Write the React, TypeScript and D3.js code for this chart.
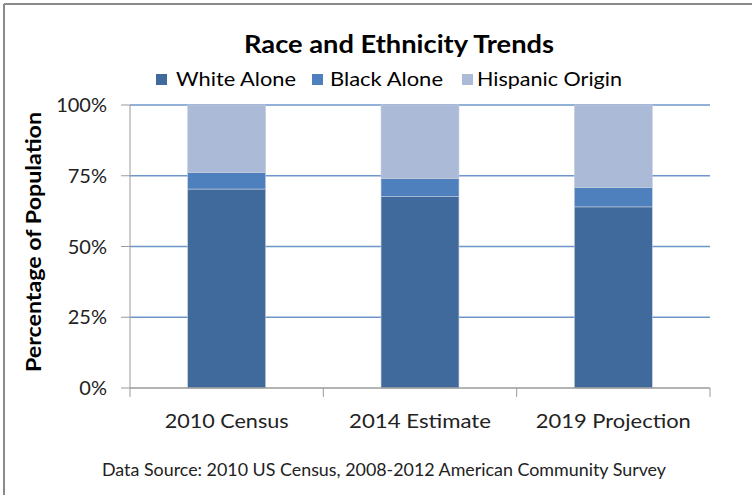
import React from "react";
import * as d3 from "d3";

const categories = ["2010 Census", "2014 Estimate", "2019 Projection"];
const whiteAlone = [70.3, 67.6, 64.0];
const blackAlone = [5.8, 6.4, 6.8];
const hispanicOrigin = [23.9, 26.0, 29.2];
const seriesNames = ["White Alone", "Black Alone", "Hispanic Origin"];
const yTicks = [0, 25, 50, 75, 100];
const yTickLabels = ["0%", "25%", "50%", "75%", "100%"];

const colors = ["#3F6A9B", "#4D80BD", "#AABAD7"];
const FONT = "Lato, 'Open Sans', sans-serif";

export default function App() {
  const W = 752, H = 495;
  const x = d3.scaleBand<string>().domain(categories).range([130, 710]).paddingInner(0.597).paddingOuter(0.2985);
  const y = d3.scaleLinear().domain([0, 100]).range([388, 105]);

  const rows = categories.map((c, i) => ({
    cat: c,
    "White Alone": whiteAlone[i],
    "Black Alone": blackAlone[i],
    "Hispanic Origin": hispanicOrigin[i],
  }));
  const stacked = d3.stack<any>().keys(seriesNames)(rows);
  const step = x.step();
  const catTicks = [130, ...categories.map((c) => (x(c) as number) + x.bandwidth() / 2 + step / 2)];

  const legendItems = [
    { sq: 156, tx: 176, w: 120 },
    { sq: 312, tx: 330, w: 113 },
    { sq: 462, tx: 477, w: 145 },
  ];
  const catWidths = [124, 142, 155];

  return (
    <svg width={W} height={H} style={{ position: "absolute", left: 0, top: 0, background: "#fff" }}>
      <rect x={0} y={0} width={W} height={H} fill="#fff" />
      {/* chart border (left and top visible) */}
      <line x1={4} y1={4} x2={W} y2={4} stroke="#8A8A8A" strokeWidth={2} />
      <line x1={4} y1={4} x2={4} y2={H} stroke="#8A8A8A" strokeWidth={2} />

      <text x={399} y={53} textAnchor="middle" fontFamily={FONT} fontWeight="bold" fontSize={25} fill="#000"
        textLength={310} lengthAdjust="spacingAndGlyphs">Race and Ethnicity Trends</text>

      {seriesNames.map((s, i) => (
        <g key={s}>
          <rect x={legendItems[i].sq} y={74} width={11} height={11} fill={colors[i]} />
          <text x={legendItems[i].tx} y={86} fontFamily={FONT} fontSize={20} fill="#000"
            textLength={legendItems[i].w} lengthAdjust="spacingAndGlyphs">{s}</text>
        </g>
      ))}

      {/* gridlines */}
      {yTicks.filter((t) => t > 0).map((t) => (
        <line key={t} x1={130} x2={710} y1={y(t)} y2={y(t)} stroke="#6E96CB" strokeWidth={1.5} />
      ))}

      {/* bars */}
      {stacked.map((layer, si) => (
        <g key={layer.key}>
          {layer.map((d, i) => (
            <rect key={i} x={x(categories[i])} y={y(d[1])} width={x.bandwidth()} height={y(d[0]) - y(d[1])}
              fill={colors[si]} stroke="#C5CDDA" strokeWidth={0.6} />
          ))}
        </g>
      ))}

      {/* y axis */}
      <line x1={130} x2={130} y1={105} y2={388} stroke="#9A9A9A" strokeWidth={1} />
      {yTicks.map((t, i) => (
        <g key={t}>
          <line x1={121} x2={130} y1={y(t)} y2={y(t)} stroke="#9A9A9A" strokeWidth={1} />
          <text x={107} y={y(t) + 7} textAnchor="end" fontFamily={FONT} fontSize={20} fill="#222">{yTickLabels[i]}</text>
        </g>
      ))}

      {/* x axis */}
      <line x1={130} x2={710} y1={388} y2={388} stroke="#9A9A9A" strokeWidth={1.5} />
      {catTicks.map((t, i) => (
        <line key={i} x1={t} x2={t} y1={388} y2={397} stroke="#9A9A9A" strokeWidth={1} />
      ))}
      {categories.map((c, i) => (
        <text key={c} x={(x(c) as number) + x.bandwidth() / 2} y={428} textAnchor="middle" fontFamily={FONT}
          fontSize={20} fill="#222" textLength={catWidths[i]} lengthAdjust="spacingAndGlyphs">{c}</text>
      ))}

      <text transform="translate(41,242) rotate(-90)" textAnchor="middle" fontFamily={FONT} fontWeight="bold"
        fontSize={20} fill="#000" textLength={260} lengthAdjust="spacingAndGlyphs">Percentage of Population</text>

      <text x={384} y={476} textAnchor="middle" fontFamily={FONT} fontSize={18} fill="#222"
        textLength={564} lengthAdjust="spacingAndGlyphs">Data Source: 2010 US Census, 2008-2012 American Community Survey</text>
    </svg>
  );
}
